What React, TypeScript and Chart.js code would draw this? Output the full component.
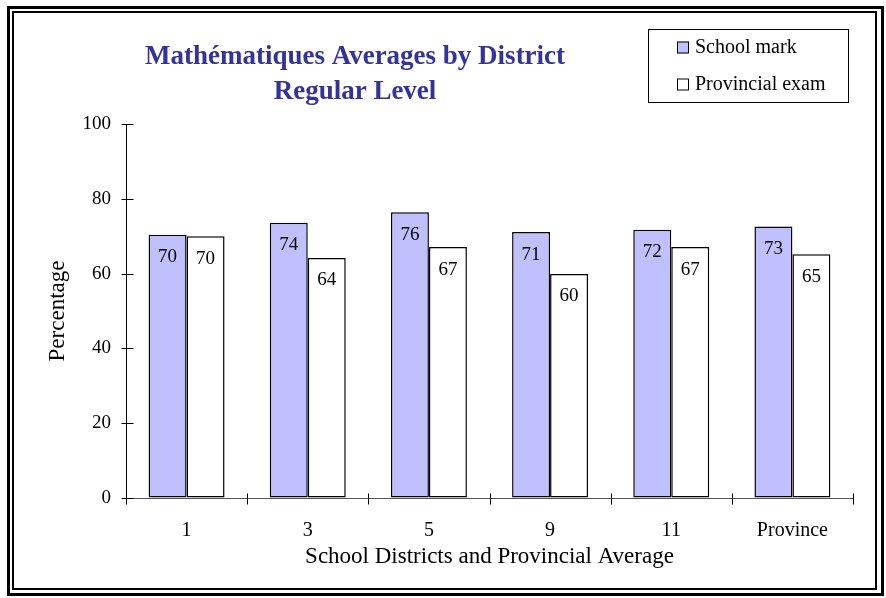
import React, { useEffect, useRef } from 'react';
import { Chart, registerables } from 'chart.js';

Chart.register(...registerables);

const categories = ['1', '3', '5', '9', '11', 'Province'];
const schoolMark = [70.4, 73.6, 76.4, 71.1, 71.7, 72.6];
const provincialExam = [70.0, 64.2, 67.1, 59.9, 67.1, 65.2];
const seriesNames = ['School mark', 'Provincial exam'];
const seriesColors = ['#C0C0FF', '#FFFFFF'];
const yTickValues = [0, 20, 40, 60, 80, 100];
const titleLines = ['Mathématiques Averages by District', 'Regular Level'];
const xAxisTitle = 'School Districts and Provincial Average';
const yAxisTitle = 'Percentage';

const FONT = "'Liberation Serif', 'Times New Roman', Times, serif";

const decorPlugin = {
  id: 'decor',
  afterDraw(chart: any) {
    const { ctx, chartArea, scales } = chart;
    ctx.save();

    // double frame
    ctx.strokeStyle = '#000';
    ctx.lineWidth = 3;
    ctx.strokeRect(8.5, 7.5, 874, 587);
    ctx.lineWidth = 2;
    ctx.strokeRect(13, 12, 863, 577);

    // title
    ctx.fillStyle = '#333399';
    ctx.font = `bold 27px ${FONT}`;
    ctx.textAlign = 'center';
    ctx.textBaseline = 'middle';
    ctx.fillText(titleLines[0], 355, 57);
    ctx.fillText(titleLines[1], 355, 92);

    // legend
    ctx.lineWidth = 1;
    ctx.strokeStyle = '#000';
    ctx.strokeRect(648.5, 29.5, 200, 73);
    const rowsY = [47.5, 84.5];
    ctx.font = `20px ${FONT}`;
    ctx.textAlign = 'left';
    chart.data.datasets.forEach((ds: any, i: number) => {
      const y = rowsY[i];
      ctx.fillStyle = ds.backgroundColor;
      ctx.fillRect(677, y - 6, 12, 12);
      ctx.strokeRect(677.5, y - 5.5, 11, 11);
      ctx.fillStyle = '#000';
      ctx.fillText(ds.label, 695, y + 0.5);
    });

    // crossing tick marks on y axis
    const ys = scales.y;
    const xs = scales.x;
    ctx.strokeStyle = '#000';
    ctx.lineWidth = 1;
    const left = Math.round(chartArea.left) + 0.5;
    yTickValues.forEach((v) => {
      const py = Math.round(ys.getPixelForValue(v)) + 0.5;
      ctx.beginPath();
      ctx.moveTo(left - 5, py);
      ctx.lineTo(left + 7, py);
      ctx.stroke();
    });
    // tick marks at category boundaries on x axis
    const bottom = Math.round(chartArea.bottom) + 0.5;
    for (let i = 0; i <= categories.length; i++) {
      const px = Math.round(xs.getPixelForValue(i - 0.5)) + 0.5;
      ctx.beginPath();
      ctx.moveTo(px, bottom - 5);
      ctx.lineTo(px, bottom + 6);
      ctx.stroke();
    }

    // value labels inside the bars
    ctx.fillStyle = '#000';
    ctx.font = `19px ${FONT}`;
    ctx.textAlign = 'center';
    ctx.textBaseline = 'middle';
    chart.data.datasets.forEach((ds: any, di: number) => {
      const meta = chart.getDatasetMeta(di);
      meta.data.forEach((el: any, j: number) => {
        ctx.fillText(String(Math.round(ds.data[j])), el.x, el.y + 22.5);
      });
    });

    ctx.restore();
  },
};

export default function App() {
  const ref = useRef<HTMLCanvasElement | null>(null);

  useEffect(() => {
    if (!ref.current) return;
    const chart = new Chart(ref.current, {
      type: 'bar',
      data: {
        labels: categories,
        datasets: [
          {
            label: seriesNames[0],
            data: schoolMark,
            backgroundColor: seriesColors[0],
            borderColor: '#000',
            borderWidth: 1.5,
            borderSkipped: false,
          },
          {
            label: seriesNames[1],
            data: provincialExam,
            backgroundColor: seriesColors[1],
            borderColor: '#000',
            borderWidth: 1.5,
            borderSkipped: false,
          },
        ],
      },
      options: {
        responsive: false,
        animation: false,
        devicePixelRatio: 1,
        layout: { padding: { left: 0, right: 33, top: 124, bottom: 0 } },
        datasets: { bar: { categoryPercentage: 0.627, barPercentage: 1 } },
        plugins: {
          legend: { display: false },
          title: { display: false },
          tooltip: { enabled: false },
        },
        scales: {
          x: {
            grid: { display: true, drawOnChartArea: false, drawTicks: false },
            border: { display: true, color: '#555', width: 1 },
            ticks: { color: '#000', font: { family: FONT, size: 20 }, padding: 21 },
            title: {
              display: true,
              text: xAxisTitle,
              color: '#000',
              font: { family: FONT, size: 23 },
              padding: { top: 0, bottom: 27 },
            },
            afterFit: (s: any) => {
              s.height = 100;
            },
          },
          y: {
            min: 0,
            max: 100,
            grid: { display: true, drawOnChartArea: false, drawTicks: false },
            border: { display: true, color: '#000', width: 1 },
            ticks: {
              stepSize: 20,
              color: '#000',
              font: { family: FONT, size: 19 },
              padding: 15,
            },
            title: {
              display: true,
              text: yAxisTitle,
              color: '#000',
              font: { family: FONT, size: 23 },
              padding: { top: 44, bottom: 0 },
            },
            afterFit: (s: any) => {
              s.width = 126;
            },
          },
        },
      },
      plugins: [decorPlugin],
    });
    return () => chart.destroy();
  }, []);

  return (
    <div style={{ position: 'absolute', left: 0, top: 0, width: 886, height: 598, background: '#fff' }}>
      <canvas ref={ref} width={886} height={598} style={{ display: 'block' }} />
    </div>
  );
}
